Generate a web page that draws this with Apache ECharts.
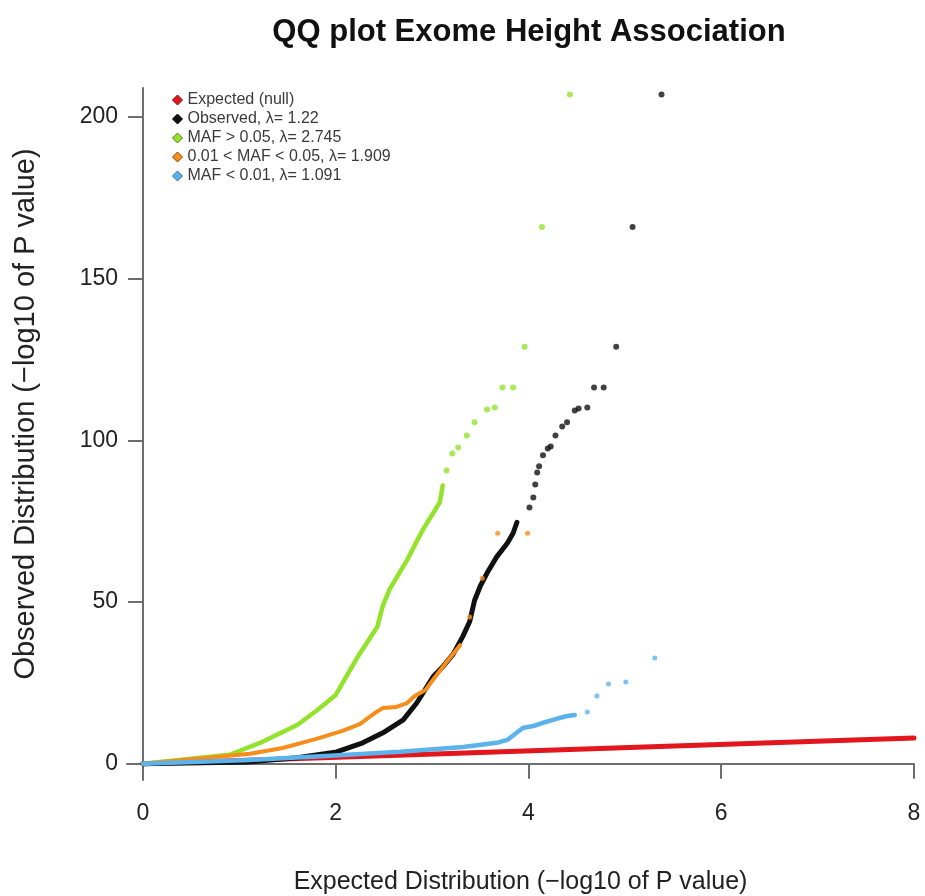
<!DOCTYPE html>
<html>
<head>
<meta charset="utf-8">
<title>QQ plot Exome Height Association</title>
<script src="https://cdn.jsdelivr.net/npm/echarts@6/dist/echarts.min.js"></script>
<style>
  html, body { margin: 0; padding: 0; background: #fff; }
  #main { width: 925px; height: 896px; }
</style>
</head>
<body>
<div id="main"></div>
<script>
// legend labels (series names)
const legendNames = [
  'Expected (null)',
  'Observed, λ= 1.22',
  'MAF > 0.05, λ= 2.745',
  '0.01 < MAF < 0.05, λ= 1.909',
  'MAF < 0.01, λ= 1.091'
]
const legendColors = ['#e3151d', '#111111', '#93e22c', '#f78d1b', '#5cb3ec']
const legendBorders = ['#7a0a0e', '#000000', '#4f7d12', '#8a4a06', '#2d6c99']

const xTicks = [0, 2, 4, 6, 8]
const yTicks = [0, 50, 100, 150, 200]

// expected -log10(p) vs itself
const expectedLine = [[0, 0], [8, 8]]

// observed (all variants): dense part + sparse tail
const observedLine = [
  [0, 0], [1.08, 0.6], [1.6, 1.9], [2.01, 3.7], [2.28, 6.5], [2.49, 9.6], [2.7, 13.6],
  [2.84, 18.8], [3.01, 26.9], [3.11, 30], [3.22, 34], [3.32, 39.5], [3.39, 44],
  [3.44, 50.5], [3.5, 55], [3.57, 59], [3.67, 64], [3.78, 68.2], [3.84, 71.3], [3.88, 74.7]
]
const observedTail = [
  [4.01, 79.3], [4.05, 82.4], [4.07, 86.4], [4.09, 90.1], [4.11, 92], [4.15, 95.4],
  [4.2, 97.5], [4.23, 98.1], [4.28, 101.5], [4.35, 104.3], [4.4, 105.6], [4.48, 109.3],
  [4.52, 109.9], [4.61, 110.2], [4.68, 116.4], [4.78, 116.4], [4.91, 129], [5.08, 166], [5.38, 207]
]

// MAF > 0.05
const commonLine = [
  [0, 0], [0.9, 2.8], [1.24, 6.8], [1.6, 12], [1.8, 16.4], [2.0, 21.3], [2.22, 32.7],
  [2.43, 42.3], [2.49, 49], [2.56, 54], [2.74, 63], [2.9, 72.2], [3.08, 80.9], [3.11, 86.1]
]
const commonTail = [
  [3.15, 90.7], [3.21, 96], [3.27, 97.8], [3.36, 101.5], [3.44, 105.6], [3.57, 109.6],
  [3.65, 110.2], [3.73, 116.4], [3.84, 116.4], [3.96, 129], [4.14, 166], [4.43, 207]
]

// 0.01 < MAF < 0.05
const lowLine = [
  [0, 0], [1.11, 3.1], [1.45, 4.9], [1.8, 7.7], [2.07, 10.2], [2.25, 12.3], [2.39, 15.4],
  [2.49, 17.3], [2.63, 17.6], [2.74, 18.8], [2.82, 21], [2.93, 22.8], [3.01, 26],
  [3.15, 31.5], [3.29, 36.7]
]
const lowTail = [[3.39, 45.4], [3.52, 57.4], [3.68, 71.3], [3.99, 71.3]]

// MAF < 0.01
const rareLine = [
  [0, 0], [1.11, 1.2], [1.94, 2.5], [2.67, 3.7], [3.32, 5.2], [3.67, 6.5], [3.78, 7.4],
  [3.94, 11.1], [4.05, 11.7], [4.15, 12.7], [4.29, 13.9], [4.4, 14.8], [4.48, 15.1]
]
const rareTail = [[4.61, 16], [4.71, 21], [4.83, 24.7], [5.01, 25.3], [5.31, 32.7]]

const fontFamily = '"Liberation Sans", Arial, Helvetica, sans-serif'
const axisColor = '#6e6e6e'

const chart = echarts.init(document.getElementById('main'))

const lineSeries = (idx, data, width, z) => ({
  name: legendNames[idx],
  type: 'line',
  data,
  symbol: 'none',
  smooth: false,
  lineStyle: { color: legendColors[idx], width, cap: 'round', join: 'round' },
  itemStyle: { color: legendColors[idx] },
  z
})
const tailSeries = (idx, data, size, z) => ({
  name: legendNames[idx],
  type: 'scatter',
  data,
  symbol: 'circle',
  symbolSize: size,
  itemStyle: { color: legendColors[idx] },
  z
})

const option = {
  backgroundColor: '#fff',
  animation: false,
  title: {
    text: 'QQ plot Exome Height Association',
    left: 524,
    top: 12,
    textAlign: 'center',
    textStyle: { fontFamily, fontSize: 31, fontWeight: 'bold', color: '#111' }
  },
  legend: {
    orient: 'vertical',
    left: 167,
    top: 87,
    itemWidth: 10,
    itemHeight: 10,
    itemGap: 3,
    icon: 'diamond',
    textStyle: { fontFamily, fontSize: 16, color: '#3a3a3a' },
    data: legendNames.map((name, i) => ({
      name,
      icon: 'diamond',
      itemStyle: { color: legendColors[i], borderColor: legendBorders[i], borderWidth: 1 }
    }))
  },
  grid: { left: 127, right: 11, top: 88, bottom: 116, containLabel: false, outerBoundsMode: 'none' },
  xAxis: {
    type: 'value',
    min: -0.166,
    max: 8,
    name: 'Expected Distribution (\u2212log10 of P value)',
    nameLocation: 'middle',
    nameGap: 90,
    nameMoveOverlap: false,
    nameTextStyle: { fontFamily, fontSize: 25, color: '#222' },
    axisLine: { onZero: true, lineStyle: { color: axisColor, width: 2 } },
    axisTick: { customValues: xTicks, length: 15, lineStyle: { color: axisColor, width: 2 } },
    axisLabel: { customValues: xTicks, margin: 22, fontFamily, fontSize: 23, color: '#222' },
    splitLine: { show: false }
  },
  yAxis: {
    type: 'value',
    min: -5,
    max: 209,
    name: 'Observed Distribution (\u2212log10 of P value)',
    nameLocation: 'middle',
    nameGap: 87,
    nameMoveOverlap: false,
    nameTextStyle: { fontFamily, fontSize: 29, color: '#222', padding: [0, 0, 0, 40] },
    axisLine: { onZero: true, lineStyle: { color: axisColor, width: 2 } },
    axisTick: { customValues: yTicks, length: 15, lineStyle: { color: axisColor, width: 2 } },
    axisLabel: { customValues: yTicks, margin: 9, fontFamily, fontSize: 23, color: '#222' },
    splitLine: { show: false }
  },
  series: [
    lineSeries(0, expectedLine, 5, 1),
    lineSeries(1, observedLine, 5, 2),
    tailSeries(1, observedTail, 6, 2),
    lineSeries(2, commonLine, 4.5, 3),
    tailSeries(2, commonTail, 6, 3),
    lineSeries(3, lowLine, 4, 4),
    tailSeries(3, lowTail, 5, 4),
    lineSeries(4, rareLine, 4.5, 5),
    tailSeries(4, rareTail, 5, 5)
  ]
}

chart.setOption(option)
window.addEventListener('resize', () => chart.resize())
</script>
</body>
</html>
